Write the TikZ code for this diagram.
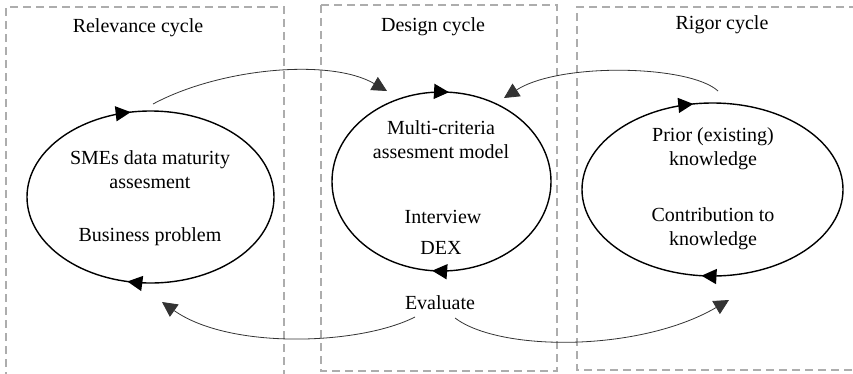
\documentclass[tikz,border=0pt]{standalone}
\usepackage{fontspec}
\setmainfont{Liberation Serif}
\usetikzlibrary{arrows.meta,decorations.markings}
\tikzset{
  tri/.tip={Triangle[length=15pt,width=15pt]},
  cyclebox/.style={draw=black!32, line width=1.2pt, dash pattern=on 8pt off 5pt},
  cyc/.style 2 args={line width=1.4pt,
    decoration={markings,
      mark=at position #1 with {\arrow{tri}},
      mark=at position #2 with {\arrow{tri}}},
    postaction=decorate},
  link/.style={line width=0.8pt, draw=black!80, -{tri}},
  lbl/.style={inner sep=0pt, align=center, font=\fontsize{20}{24}\selectfont},
}
\begin{document}
\begin{tikzpicture}[x=1pt,y=-1pt]
\useasboundingbox (0,0) rectangle (853,373);
\clip (0,0) rectangle (853,373);
% dashed cycle boxes
\draw[cyclebox] (6,380) -- (6,7) -- (284,7) -- (284,380);
\draw[cyclebox] (321,5) rectangle (557,371);
\draw[cyclebox] (870,7) -- (577,7) -- (577,370) -- (870,370);
% titles
\node[lbl] (trel) at (138,28) {Relevance cycle};
\node[lbl] (tdes) at (433,27) {Design cycle};
\node[lbl] (trig) at (722,25) {Rigor cycle};
% ellipses
\coordinate (crel) at (150.5,197);
\coordinate (cdes) at (441.5,181.5);
\coordinate (crig) at (712.5,189.5);
\draw[cyc={0.285}{0.72}] (crel) ellipse [x radius=123.5, y radius=86];
\draw[cyc={0.265}{0.762}] (cdes) ellipse [x radius=109.5, y radius=89.5];
\draw[cyc={0.266}{0.722}] (crig) ellipse [x radius=130.5, y radius=86.5];
% texts
\node[lbl] (l1) at (150,170) {SMEs data maturity\\assesment};
\node[lbl] (l2) at (150,237) {Business problem};
\node[lbl] (m1) at (441,139.5) {Multi-criteria\\assesment model};
\node[lbl] (m2) at (443,217) {Interview};
\node[lbl] (m3) at (441,248) {DEX};
\node[lbl] (m4) at (440,303) {Evaluate};
\node[lbl] (r1) at (713,148.5) {Prior (existing)\\knowledge};
\node[lbl] (r2) at (713,228.5) {Contribution to\\knowledge};
% connector ends
\coordinate (a1) at (153,104);
\coordinate (a2) at (387,91);
\coordinate (b1) at (718,91);
\coordinate (b2) at (504,98);
\coordinate (c1) at (415,317);
\coordinate (c2) at (162,302);
\coordinate (d1) at (455,318);
\coordinate (d2) at (729,300);
\draw[link] (a1) .. controls (220,68) and (330,58) .. (a2);
\draw[link] (b1) .. controls (690,65) and (560,62) .. (b2);
\draw[link] (c1) .. controls (360,345) and (230,350) .. (c2);
\draw[link] (d1) .. controls (500,352) and (640,352) .. (d2);
\end{tikzpicture}
\end{document}
